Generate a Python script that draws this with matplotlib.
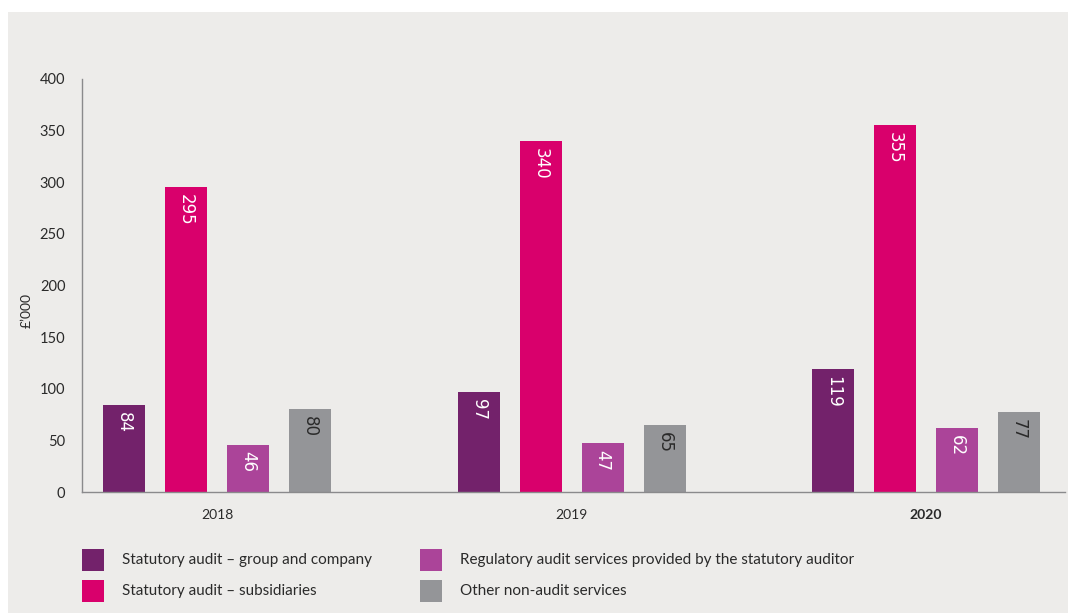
import matplotlib
matplotlib.use("Agg")
import matplotlib.pyplot as plt
from matplotlib.patches import Rectangle
import numpy as np

plt.rcParams['font.family'] = ['Lato', 'DejaVu Sans']

years = ["2018", "2019", "2020"]
series_names = [
    "Statutory audit \u2013 group and company",
    "Statutory audit \u2013 subsidiaries",
    "Regulatory audit services provided by the statutory auditor",
    "Other non-audit services",
]
group_company = [84, 97, 119]
subsidiaries = [295, 340, 355]
regulatory = [46, 47, 62]
non_audit = [80, 65, 77]
yticks = [0, 50, 100, 150, 200, 250, 300, 350, 400]

series = [group_company, subsidiaries, regulatory, non_audit]
colors = ["#73226b", "#d9006c", "#ab4499", "#949598"]
label_colors = ["white", "white", "white", "#2a2a2a"]
bg = "#edecea"

fig = plt.figure(figsize=(10.68, 6.13), dpi=100)
fig.patch.set_facecolor("white")
fig.add_artist(Rectangle((8 / 1068, 0), 1 - 8 / 1068, 1 - 12 / 613,
                         transform=fig.transFigure, facecolor=bg,
                         edgecolor="none", zorder=0))

ax = fig.add_axes([82 / 1068, (613 - 492) / 613, (1065 - 82) / 1068, (492 - 79) / 613])
ax.set_facecolor("none")

x = np.arange(len(years))
step = 0.1749
width = 0.1185
for i, (vals, c, lc) in enumerate(zip(series, colors, label_colors)):
    pos = x + (i - 1.5) * step
    ax.bar(pos, vals, width=width, color=c, zorder=2, label=series_names[i])
    for p, v in zip(pos, vals):
        ax.annotate(str(v), (p, v), xytext=(0, -5), textcoords="offset points",
                    rotation=270, ha="center", va="top", color=lc,
                    fontsize=12, family=["DejaVu Sans"], zorder=3)

ax.set_ylim(0, 400)
ax.set_xlim(-0.381, 2.392)
ax.set_yticks(yticks)
ax.set_xticks(x)
ax.set_xticklabels(years)
for lbl in ax.get_xticklabels():
    if lbl.get_text() == "2020":
        lbl.set_fontweight("bold")
ax.tick_params(axis="y", length=0, pad=12, labelsize=10.5, colors="#2a2a2a")
ax.tick_params(axis="x", length=0, pad=12, labelsize=10, colors="#2a2a2a")
for s in ["top", "right"]:
    ax.spines[s].set_visible(False)
for s in ["left", "bottom"]:
    ax.spines[s].set_color("#8a8a8c")
    ax.spines[s].set_linewidth(1.0)
ax.set_ylabel("\u00a3\u2019000", fontsize=10, color="#2a2a2a")
ax.yaxis.set_label_coords(-0.050, 0.44)

# legend as two columns of square swatches
legend_items = [
    (82, 560, 0), (82, 591, 1), (420, 560, 2), (420, 591, 3),
]
for px, py, idx in legend_items:
    fig.add_artist(Rectangle((px / 1068, (613 - py - 11) / 613), 22 / 1068, 22 / 613,
                             transform=fig.transFigure, facecolor=colors[idx],
                             edgecolor="none"))
    fig.text((px + 40) / 1068, (613 - py) / 613, series_names[idx],
             fontsize=11, color="#2a2a2a", va="center", ha="left")

fig.savefig("out.png", dpi=100, facecolor=fig.get_facecolor())
